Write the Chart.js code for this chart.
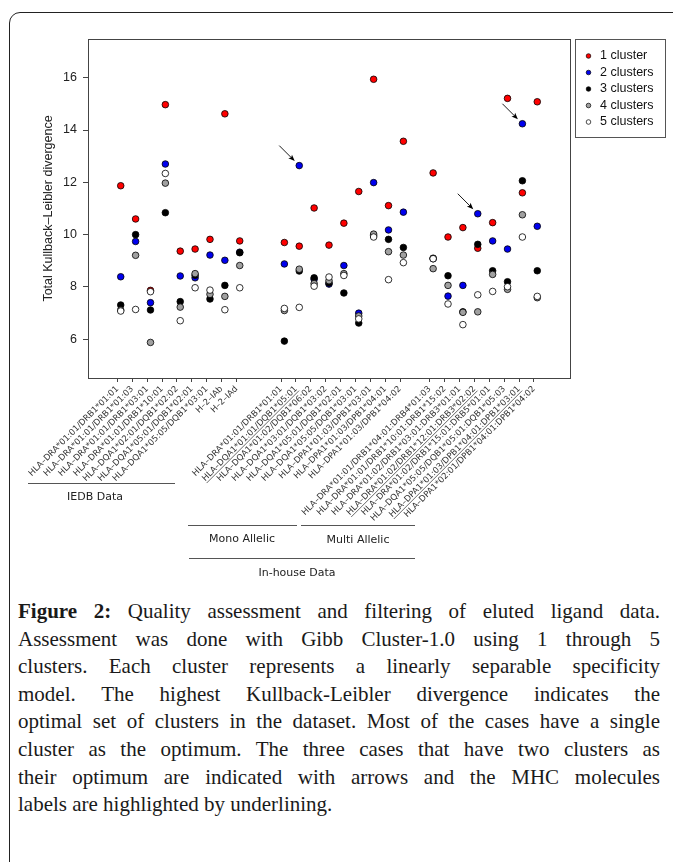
<!DOCTYPE html>
<html>
<head>
<meta charset="utf-8">
<script src="https://cdn.jsdelivr.net/npm/chart.js@4.4.1/dist/chart.umd.min.js"></script>
<style>
  html, body { margin:0; padding:0; background:#fff; width:673px; height:862px; overflow:hidden; }
  #frame { position:absolute; left:9px; top:12px; width:720px; height:900px; border:1.5px solid #222; border-top-left-radius:11px; box-sizing:border-box; }
  #plot { position:absolute; left:0; top:0; }
  #caption { position:absolute; left:18px; top:598px; width:642px; font-family:'Liberation Serif', serif; font-size:21px; line-height:27.6px; color:#1a1a1a; }
  #caption .j { text-align:justify; text-align-last:justify; white-space:nowrap; }
</style>
</head>
<body>
<div id="frame"></div>
<canvas id="plot" width="673" height="590"></canvas>
<div id="caption">
  <div class="j"><b>Figure 2:</b> Quality assessment and filtering of eluted ligand data.</div>
  <div class="j">Assessment was done with Gibb Cluster-1.0 using 1 through 5</div>
  <div class="j">clusters. Each cluster represents a linearly separable specificity</div>
  <div class="j">model. The highest Kullback-Leibler divergence indicates the</div>
  <div class="j">optimal set of clusters in the dataset. Most of the cases have a single</div>
  <div class="j">cluster as the optimum. The three cases that have two clusters as</div>
  <div class="j">their optimum are indicated with arrows and the MHC molecules</div>
  <div>labels are highlighted by underlining.</div>
</div>
<script>
// positions on the x axis (gaps between IEDB / mono allelic / multi allelic)
const positions = [1,2,3,4,5,6,7,8,9, 12,13,14,15,16,17,18,19,20, 22,23,24,25,26,27,28,29];

const xLabels = [
  'HLA–DRA*01:01/DRB1*01:01','HLA–DRA*01:01/DRB1*01:03','HLA–DRA*01:01/DRB1*03:01','HLA–DRA*01:01/DRB1*10:01',
  'HLA–DQA1*02:01/DQB1*02:02','HLA–DQA1*05:01/DQB1*02:01','HLA–DQA1*05:05/DQB1*03:01','H–2–IAb','H–2–IAd',
  'HLA–DRA*01:01/DRB1*01:01','HLA–DQA1*01:01/DQB1*05:01','HLA–DQA1*01:02/DQB1*06:02','HLA–DQA1*03:01/DQB1*03:02',
  'HLA–DQA1*05:01/DQB1*02:01','HLA–DQA1*05:05/DQB1*03:01','HLA–DPA1*01:03/DPB1*03:01','HLA–DPA1*01:03/DPB1*04:01',
  'HLA–DPA1*01:03/DPB1*04:02',
  'HLA–DRA*01:01/DRB1*04:01:DRB4*01:03','HLA–DRA*01:01/DRB1*10:01:DRB1*15:02','HLA–DRA*01:02/DRB1*03:01:DRB3*01:01',
  'HLA–DRA*01:02/DRB1*12:01:DRB3*02:02','HLA–DRA*01:02/DRB1*15:01:DRB5*01:01','HLA–DQA1*05:05/DQB1*05:01:DQB1*05:03',
  'HLA–DPA1*01:03/DPB1*04:01:DPB1*03:01','HLA–DPA1*02:01/DPB1*04:01:DPB1*04:02'
];

// the three cases with 2 clusters as optimum (underlined + arrow)
const highlighted = [13, 25, 28];

const cluster1 = [11.87,10.60,7.87,14.97,9.37,9.45,9.82,14.62,9.76, 9.70,9.56,11.02,9.60,10.44,11.65,15.94,11.11,13.57, 12.36,9.91,10.27,9.48,10.46,15.21,11.60,15.08];
const cluster2 = [8.39,9.74,7.40,12.70,8.42,8.35,9.22,9.02,9.33, 8.88,12.64,8.30,8.11,8.82,7.00,11.99,10.18,10.86, 9.08,7.65,8.06,10.80,9.76,9.45,14.24,10.32];
const cluster3 = [7.31,10.00,7.12,10.84,7.44,8.45,7.54,8.06,9.31, 5.93,8.61,8.35,8.15,7.77,6.62,9.96,9.82,9.51, 9.10,8.43,7.05,9.63,8.62,8.20,12.06,8.62];
const cluster4 = [7.12,9.21,5.88,11.97,7.23,8.51,7.72,7.64,8.82, 7.10,8.68,8.13,8.24,8.51,6.89,10.02,9.35,9.22, 8.70,8.06,7.03,7.05,8.48,7.91,10.76,7.59];
const cluster5 = [7.08,7.14,7.82,12.34,6.71,7.97,7.88,7.13,7.97, 7.18,7.22,8.03,8.38,8.44,6.78,9.91,8.28,8.93, 9.08,7.35,6.56,7.70,7.83,8.01,9.91,7.64];

const seriesNames = ['1 cluster','2 clusters','3 clusters','4 clusters','5 clusters'];
const seriesColors = ['#ff0000','#0000ee','#000000','#a0a0a0','#ffffff'];
const yTicks = [6, 8, 10, 12, 14, 16];

const tickShift = -0.22; // R axis ticks sit slightly left of the points

function toPoints(vals){ return vals.map((v,i)=>({x: positions[i], y: v})); }

const allSeries = [cluster1, cluster2, cluster3, cluster4, cluster5];
const datasets = allSeries.map((vals, k) => ({
  label: seriesNames[k],
  data: toPoints(vals),
  backgroundColor: seriesColors[k],
  borderColor: '#000',
  borderWidth: 0.8,
  pointRadius: 3.3,
  order: 5 - k   // 1 cluster drawn first, 5 clusters on top
}));

// box, legend, arrows, underlines and group annotations
const extras = {
  id: 'extras',
  afterDraw(chart){
    const ctx = chart.ctx, a = chart.chartArea;
    const xs = chart.scales.x, ys = chart.scales.y;
    ctx.save();
    // plot box
    ctx.strokeStyle = '#444'; ctx.lineWidth = 1;
    ctx.strokeRect(Math.round(a.left)+0.5, Math.round(a.top)+0.5, Math.round(a.right-a.left), Math.round(a.bottom-a.top));

    // arrows to the 2-cluster optimum points
    ctx.fillStyle = '#000'; ctx.strokeStyle = '#000'; ctx.lineWidth = 0.9;
    highlighted.forEach(p => {
      const i = positions.indexOf(p);
      const px = xs.getPixelForValue(p), py = ys.getPixelForValue(cluster2[i]);
      const x0 = px-20, y0 = py-20, x1 = px-4.5, y1 = py-4.5;
      ctx.beginPath(); ctx.moveTo(x0,y0); ctx.lineTo(x1-3,y1-3); ctx.stroke();
      const ang = Math.atan2(y1-y0, x1-x0);
      ctx.beginPath();
      ctx.moveTo(x1,y1);
      ctx.lineTo(x1-7*Math.cos(ang-0.38), y1-7*Math.sin(ang-0.38));
      ctx.lineTo(x1-5*Math.cos(ang), y1-5*Math.sin(ang));
      ctx.lineTo(x1-7*Math.cos(ang+0.38), y1-7*Math.sin(ang+0.38));
      ctx.closePath(); ctx.fill();
    });

    // underline highlighted tick labels (same anchor Chart.js uses for rotated labels)
    const fs = 8.5, lh = fs * 1.2;
    ctx.font = fs + 'px "DejaVu Sans"';
    ctx.strokeStyle = '#333'; ctx.lineWidth = 0.7;
    const yAnchor = a.bottom + 4 + 2;
    const xOff = -(lh / 2) * Math.sin(Math.PI/4);
    highlighted.forEach(p => {
      const i = positions.indexOf(p);
      const w = ctx.measureText(xLabels[i]).width;
      ctx.save();
      ctx.translate(xs.getPixelForValue(p + tickShift) + xOff, yAnchor);
      ctx.rotate(-Math.PI/4);
      const uy = lh/2 + 4.3;
      ctx.beginPath(); ctx.moveTo(-w, uy); ctx.lineTo(0, uy); ctx.stroke();
      ctx.restore();
    });

    // legend
    ctx.strokeStyle = '#555'; ctx.lineWidth = 1;
    ctx.strokeRect(575.5, 39.5, 90, 98);
    ctx.font = '12.5px "Liberation Sans"'; ctx.textBaseline = 'middle'; ctx.textAlign = 'left';
    seriesNames.forEach((n, k) => {
      const y = 56 + k*16.5;
      ctx.beginPath(); ctx.arc(588.5, y, 2.3, 0, Math.PI*2);
      ctx.fillStyle = seriesColors[k]; ctx.fill();
      ctx.strokeStyle = '#000'; ctx.lineWidth = 0.7; ctx.stroke();
      ctx.fillStyle = '#111'; ctx.fillText(n, 600, y);
    });

    // group annotations under the axis labels
    ctx.strokeStyle = '#555'; ctx.lineWidth = 1;
    const hline = (x0, x1, y) => { ctx.beginPath(); ctx.moveTo(x0, y+0.5); ctx.lineTo(x1, y+0.5); ctx.stroke(); };
    hline(28, 175, 483); hline(188, 297, 525); hline(301, 415, 525); hline(189, 415, 558);
    ctx.font = '11px "DejaVu Sans"'; ctx.fillStyle = '#222'; ctx.textAlign = 'center';
    ctx.fillText('IEDB Data', 95, 497);
    ctx.fillText('Mono Allelic', 242, 539);
    ctx.fillText('Multi Allelic', 358, 540);
    ctx.fillText('In-house Data', 297, 573);
    ctx.restore();
  }
};

new Chart(document.getElementById('plot'), {
  type: 'scatter',
  data: { datasets },
  plugins: [extras],
  options: {
    responsive: false,
    animation: false,
    layout: { padding: { top: 39, right: 103, left: 0, bottom: 0 } },
    plugins: { legend: { display: false }, tooltip: { enabled: false } },
    scales: {
      x: {
        type: 'linear', min: -1.2, max: 31.2,
        afterFit: s => { s.height = 212; },
        afterBuildTicks: s => { s.ticks = positions.map(p => ({ value: p + tickShift })); },
        ticks: {
          autoSkip: false, minRotation: 45, maxRotation: 45, padding: 2,
          font: { family: 'DejaVu Sans', size: 8.5 }, color: '#333',
          callback: (v, i) => xLabels[i]
        },
        grid: { drawOnChartArea: false, tickLength: 4, color: '#444' },
        border: { color: '#444' }
      },
      y: {
        min: 4.52, max: 17.48,
        afterFit: s => { s.width = 88; },
        afterBuildTicks: s => { s.ticks = yTicks.map(v => ({ value: v })); },
        ticks: { padding: 6, font: { family: 'Liberation Sans', size: 12.5 }, color: '#222' },
        grid: { drawOnChartArea: false, tickLength: 5, color: '#444' },
        border: { color: '#444' },
        title: {
          display: true, text: 'Total Kullback–Leibler divergence',
          font: { family: 'Liberation Sans', size: 12.5 }, color: '#222',
          padding: { top: 41.5, bottom: 0 }
        }
      }
    }
  }
});
</script>
</body>
</html>
